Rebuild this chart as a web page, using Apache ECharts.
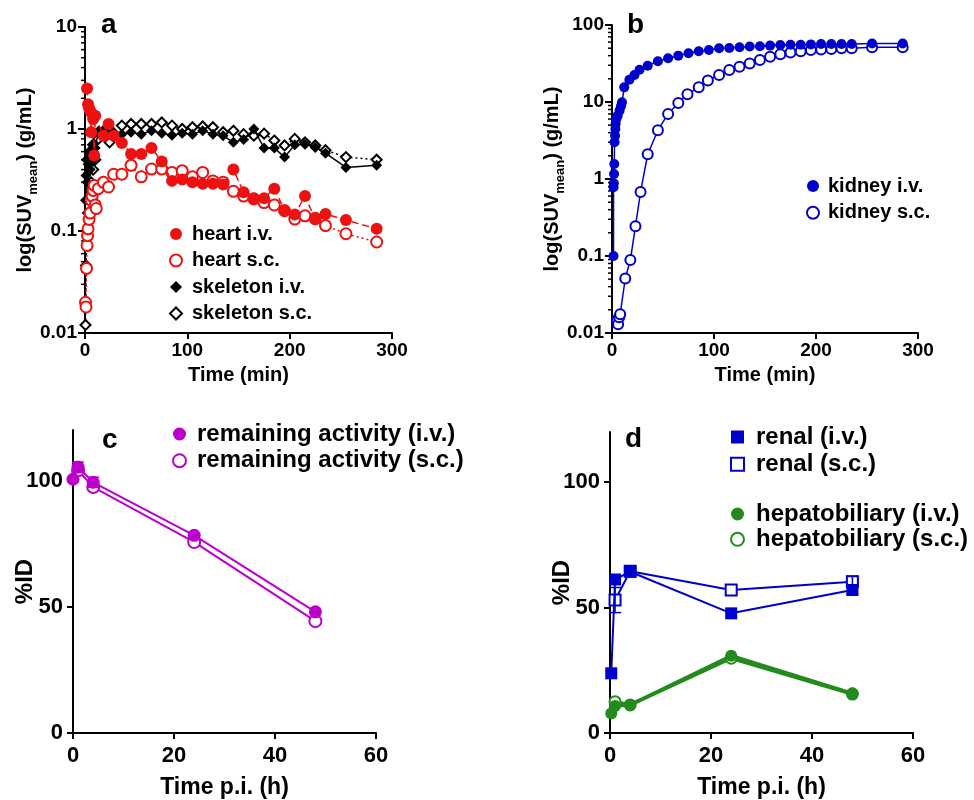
<!DOCTYPE html>
<html>
<head>
<meta charset="utf-8">
<script src="https://cdn.jsdelivr.net/npm/echarts@6/dist/echarts.min.js"></script>
<style>
  html, body { margin: 0; padding: 0; background: #fff; }
  #chart { width: 974px; height: 800px; }
</style>
</head>
<body>
<div id="chart"></div>
<script>
// ---- panel a: heart / skeleton (SUV, log) ----
const heartIvT = [2, 3, 4, 5, 6, 7, 8, 9, 10, 18, 23, 28, 36, 45, 55, 65, 75, 85, 95, 105, 115, 125, 135, 145, 155, 165, 175, 185, 195, 205, 215, 225, 235, 255, 285]
const heartIvV = [2.5, 1.75, 1.6, 1.5, 0.93, 1.4, 1.25, 0.55, 1.35, 0.86, 1.12, 0.86, 0.73, 0.57, 0.57, 0.65, 0.48, 0.31, 0.32, 0.30, 0.29, 0.29, 0.285, 0.40, 0.24, 0.21, 0.21, 0.26, 0.16, 0.145, 0.22, 0.13, 0.147, 0.128, 0.105]
const heartScT = [0.5, 1, 1.5, 2, 2.5, 3, 4, 5, 6, 7, 8, 9, 10, 11, 13, 18, 23, 28, 36, 45, 55, 65, 75, 85, 95, 105, 115, 125, 135, 145, 155, 165, 175, 185, 195, 205, 215, 225, 235, 255, 285]
const heartScV = [0.02, 0.018, 0.043, 0.072, 0.09, 0.105, 0.13, 0.15, 0.2, 0.22, 0.25, 0.28, 0.18, 0.166, 0.26, 0.30, 0.27, 0.36, 0.36, 0.44, 0.34, 0.405, 0.405, 0.375, 0.39, 0.34, 0.375, 0.31, 0.30, 0.245, 0.22, 0.206, 0.19, 0.18, 0.158, 0.131, 0.141, 0.133, 0.113, 0.094, 0.078]
const skelIvT = [0.5, 1, 1.5, 2, 3, 4, 5, 6, 7, 8, 10, 13, 18, 23, 28, 36, 45, 55, 65, 75, 85, 95, 105, 115, 125, 135, 145, 155, 165, 175, 185, 195, 205, 215, 225, 235, 255, 285]
const skelIvV = [0.2, 0.35, 0.5, 0.3, 0.45, 0.6, 0.4, 0.55, 0.7, 0.5, 0.65, 0.95, 0.95, 0.9, 0.93, 0.89, 0.93, 0.89, 0.96, 0.91, 0.87, 0.91, 0.89, 0.96, 0.89, 0.86, 0.74, 0.79, 1.0, 0.65, 0.65, 0.53, 0.70, 0.71, 0.66, 0.58, 0.42, 0.44]
const skelScT = [0.5, 1, 2, 3, 4, 5, 6, 8, 10, 13, 18, 24, 36, 45, 55, 65, 75, 85, 95, 105, 115, 125, 135, 145, 155, 165, 175, 185, 195, 205, 215, 225, 235, 255, 285]
const skelScV = [0.012, 0.046, 0.1, 0.15, 0.2, 0.25, 0.3, 0.4, 0.5, 0.8, 0.95, 0.74, 1.08, 1.12, 1.12, 1.12, 1.16, 1.08, 1.0, 1.04, 1.06, 1.04, 0.93, 0.96, 0.89, 0.86, 0.9, 0.77, 0.69, 0.80, 0.74, 0.69, 0.62, 0.53, 0.50]

// ---- panel b: kidney ----
const kidIvT = [1.5, 1.5, 1.8, 2, 2.2, 2.5, 3, 3.3, 3.6, 4.2, 5.5, 7.4, 8.8, 9.8, 12, 17, 22, 27, 35, 45, 55, 65, 75, 85, 95, 105, 115, 125, 135, 145, 155, 165, 175, 185, 195, 205, 215, 225, 235, 255, 285]
const kidIvV = [0.1, 0.78, 0.88, 1.16, 1.57, 3.0, 3.65, 4.45, 5.2, 6.0, 6.6, 7.7, 8.8, 9.9, 15.5, 19.5, 22.4, 26.3, 29.6, 33.8, 37, 40, 43, 45.5, 47.3, 50, 50.3, 51.5, 52.5, 53, 54, 55, 55.5, 55.5, 56, 56.6, 56.6, 56.6, 56.6, 57.5, 57.5]
const kidScT = [5, 6, 7, 8, 13, 18, 23, 28, 35, 45, 55, 65, 74, 85, 94, 105, 115, 125, 135, 145, 155, 165, 175, 185, 195, 205, 215, 225, 235, 255, 285]
const kidScV = [0.0145, 0.013, 0.016, 0.0175, 0.051, 0.089, 0.243, 0.68, 2.1, 4.3, 7.0, 9.7, 12.6, 15.5, 19, 22.4, 26, 28.7, 31.7, 35, 38.7, 41.8, 44, 45.6, 47.3, 47.9, 48.9, 50, 50, 51.3, 51.3]

// ---- panel c: remaining activity ----
const remIvT = [0, 1, 4, 24, 48]
const remIvV = [100.5, 105.3, 99.3, 78.3, 48]
const remScT = [1, 4, 24, 48]
const remScV = [104, 97.4, 75.6, 44.3]
// [t, low, high]
const remIvErr = [[1, 103.3, 107.3], [4, 97.3, 101.3]]

// ---- panel d: excretion ----
const renIvT = [0.25, 1, 4, 24, 48]
const renIvV = [23.8, 61.2, 64.3, 47.7, 57]
const renScT = [1, 4, 24, 48]
const renScV = [53, 64.5, 57, 60.3]
const hepIvT = [0.25, 1, 4, 24, 48]
const hepIvV = [7.8, 10.8, 11.2, 30.8, 15.8]
const hepScT = [1, 4, 24, 48]
const hepScV = [12.5, 11.2, 29.8, 15.5]
const renScErr = [[1, 48, 58], [48, 58.5, 62.5]]
const renIvErr = [[48, 55.5, 58.5]]

// axis ticks
const logDecadesA = [0.01, 0.1, 1]
const logDecadesB = [0.01, 0.1, 1, 10]
const minorSteps = [2, 3, 4, 5, 6, 7, 8, 9]
const pctTicks = [0, 50, 100]

const RED = '#ee1111'
const BLUE = '#0000cc'
const MAG = '#bb00cc'
const GREEN = '#238a1e'
const FONT = 'Liberation Sans'

function pairs(t, v) { return t.map(function (x, i) { return [x, v[i]] }) }
function minorVals(decades) {
  const out = []
  decades.forEach(function (d) { minorSteps.forEach(function (s) { out.push([0, d * s]) }) })
  return out
}

function minorTickSeries(idx, decades) {
  return {
    type: 'custom', xAxisIndex: idx, yAxisIndex: idx, silent: true, z: 1,
    data: minorVals(decades),
    renderItem: function (params, api) {
      const p = api.coord([0, api.value(1)])
      return { type: 'line', shape: { x1: p[0] - 4, y1: p[1], x2: p[0], y2: p[1] }, style: { stroke: '#000', lineWidth: 1.5 } }
    }
  }
}

function errSeries(idx, data, color) {
  return {
    type: 'custom', xAxisIndex: idx, yAxisIndex: idx, silent: true, z: 3,
    data: data,
    renderItem: function (params, api) {
      const a = api.coord([api.value(0), api.value(1)])
      const b = api.coord([api.value(0), api.value(2)])
      const st = { stroke: color, lineWidth: 1.5 }
      return {
        type: 'group', children: [
          { type: 'line', shape: { x1: a[0], y1: a[1], x2: b[0], y2: b[1] }, style: st },
          { type: 'line', shape: { x1: a[0] - 6, y1: a[1], x2: a[0] + 6, y2: a[1] }, style: st },
          { type: 'line', shape: { x1: b[0] - 6, y1: b[1], x2: b[0] + 6, y2: b[1] }, style: st }
        ]
      }
    }
  }
}

function xAxis(idx, max, interval, name, fs, gap) {
  return {
    gridIndex: idx, type: 'value', min: 0, max: max, interval: interval,
    name: name, nameLocation: 'middle', nameGap: gap, nameMoveOverlap: false,
    nameTextStyle: { fontSize: fs + 1, fontWeight: 'bold', color: '#000', fontFamily: FONT },
    axisLine: { lineStyle: { color: '#000', width: 2 } },
    axisTick: { length: 6, lineStyle: { color: '#000', width: 2 } },
    axisLabel: { fontSize: fs, fontWeight: 'bold', color: '#000', fontFamily: FONT, margin: fs > 20 ? 12 : 8 },
    splitLine: { show: false }
  }
}

const subName = '{m|log(SUV}{sub|mean}{m|) (g/mL)}'
const subRich = {
  m: { fontSize: 20, fontWeight: 'bold', fontFamily: FONT, color: '#000', verticalAlign: 'bottom', padding: [0, 0, 5, 0] },
  sub: { fontSize: 13, fontWeight: 'bold', fontFamily: FONT, color: '#000', verticalAlign: 'bottom' }
}

function logAxis(idx, max) {
  return {
    gridIndex: idx, type: 'log', logBase: 10, min: 0.01, max: max,
    name: subName, nameLocation: 'middle', nameGap: 45, nameRotate: 90, nameMoveOverlap: false,
    nameTextStyle: { rich: subRich },
    axisLine: { lineStyle: { color: '#000', width: 2 } },
    axisTick: { length: 7, lineStyle: { color: '#000', width: 2 } },
    axisLabel: { fontSize: 19, fontWeight: 'bold', color: '#000', fontFamily: FONT, margin: 8 },
    splitLine: { show: false }
  }
}

function pctAxis(idx) {
  return {
    gridIndex: idx, type: 'value', min: 0, max: 120,
    name: '%ID', nameLocation: 'middle', nameGap: 36, nameRotate: 90, nameMoveOverlap: false,
    nameTextStyle: { fontSize: 24, fontWeight: 'bold', color: '#000', fontFamily: FONT },
    axisLine: { lineStyle: { color: '#000', width: 2 } },
    axisTick: { length: 6, customValues: pctTicks, lineStyle: { color: '#000', width: 2 } },
    axisLabel: { fontSize: 22, fontWeight: 'bold', color: '#000', fontFamily: FONT, margin: 10, customValues: pctTicks },
    splitLine: { show: false }
  }
}

function lineSeries(name, idx, data, color, symbol, size, lineType, width, z) {
  const empty = symbol.indexOf('empty') === 0
  return {
    name: name, type: 'line', xAxisIndex: idx, yAxisIndex: idx, data: data,
    symbol: symbol, symbolSize: size, z: z || 2,
    lineStyle: { color: color, width: width, type: lineType },
    itemStyle: { color: color, borderColor: color, borderWidth: empty ? 2 : 0 }
  }
}

function legendItem(name, icon, color) {
  const empty = icon.indexOf('empty') === 0
  return {
    name: name, icon: icon.replace('empty', '').toLowerCase(),
    itemStyle: empty ? { color: '#fff', borderColor: color, borderWidth: 2 } : { color: color, borderWidth: 0 }
  }
}

// square icon box, text pushed right with padding
function legend(left, top, gap, size, fs, pad, items) {
  return {
    left: left, top: top, padding: 0, orient: 'vertical', itemGap: gap, itemWidth: size, itemHeight: size,
    selectedMode: false,
    textStyle: { fontSize: fs, fontWeight: 'bold', color: '#000', fontFamily: FONT, lineHeight: fs, padding: [0, 0, 0, pad] },
    data: items
  }
}

function letter(text, left, top) {
  return { text: text, left: left, top: top, padding: 0, textStyle: { fontSize: 28, fontWeight: 'bold', color: '#000', fontFamily: FONT } }
}

const chart = echarts.init(document.getElementById('chart'), null, { renderer: 'canvas' })

const option = {
  animation: false,
  backgroundColor: '#fff',
  textStyle: { fontFamily: FONT },
  title: [letter('a', 101, 11), letter('b', 627, 11), letter('c', 102, 426), letter('d', 625, 425)],
  grid: [
    { left: 85, top: 27, width: 307, height: 306 },
    { left: 612, top: 25, width: 306, height: 308 },
    { left: 73, top: 430, width: 303, height: 303 },
    { left: 610, top: 432, width: 303, height: 301 }
  ],
  xAxis: [
    xAxis(0, 300, 100, 'Time (min)', 19, 32),
    xAxis(1, 300, 100, 'Time (min)', 19, 32),
    xAxis(2, 60, 20, 'Time p.i. (h)', 22, 43),
    xAxis(3, 60, 20, 'Time p.i. (h)', 22, 43)
  ],
  yAxis: [logAxis(0, 10), logAxis(1, 100), pctAxis(2), pctAxis(3)],
  legend: [
    legend(169, 224, 6.5, 12, 20, 5, [
      legendItem('heart i.v.', 'circle', RED), legendItem('heart s.c.', 'emptyCircle', RED),
      legendItem('skeleton i.v.', 'diamond', '#000'), legendItem('skeleton s.c.', 'emptyDiamond', '#000')
    ]),
    legend(806, 176, 6.7, 12, 20, 4, [
      legendItem('kidney i.v.', 'circle', BLUE), legendItem('kidney s.c.', 'emptyCircle', BLUE)
    ]),
    legend(172, 422, 2.7, 13, 24, 6, [
      legendItem('remaining activity (i.v.)', 'circle', MAG), legendItem('remaining activity (s.c.)', 'emptyCircle', MAG)
    ]),
    legend(730, 425, 3.3, 13, 24, 7, [
      legendItem('renal (i.v.)', 'rect', BLUE), legendItem('renal (s.c.)', 'emptyRect', BLUE)
    ]),
    legend(730, 502, 1.3, 13, 24, 7, [
      legendItem('hepatobiliary (i.v.)', 'circle', GREEN), legendItem('hepatobiliary (s.c.)', 'emptyCircle', GREEN)
    ])
  ],
  series: [
    minorTickSeries(0, logDecadesA),
    minorTickSeries(1, logDecadesB),
    lineSeries('skeleton s.c.', 0, pairs(skelScT, skelScV), '#000', 'emptyDiamond', 10, [2, 3], 1.5, 2),
    lineSeries('skeleton i.v.', 0, pairs(skelIvT, skelIvV), '#000', 'diamond', 11, 'solid', 1.5, 3),
    lineSeries('heart s.c.', 0, pairs(heartScT, heartScV), RED, 'emptyCircle', 11, [2, 3], 1.5, 4),
    lineSeries('heart i.v.', 0, pairs(heartIvT, heartIvV), RED, 'circle', 12, [7, 4], 1.5, 5),

    lineSeries('kidney s.c.', 1, pairs(kidScT, kidScV), BLUE, 'emptyCircle', 10, 'solid', 1.5, 2),
    lineSeries('kidney i.v.', 1, pairs(kidIvT, kidIvV), BLUE, 'circle', 10, 'solid', 1.5, 3),

    lineSeries('remaining activity (s.c.)', 2, pairs(remScT, remScV), MAG, 'emptyCircle', 12, 'solid', 2, 2),
    lineSeries('remaining activity (i.v.)', 2, pairs(remIvT, remIvV), MAG, 'circle', 13, 'solid', 2, 3),
    errSeries(2, remIvErr, MAG),

    lineSeries('renal (s.c.)', 3, pairs(renScT, renScV), BLUE, 'emptyRect', 11, 'solid', 2, 2),
    lineSeries('renal (i.v.)', 3, pairs(renIvT, renIvV), BLUE, 'rect', 12, 'solid', 2, 3),
    lineSeries('hepatobiliary (s.c.)', 3, pairs(hepScT, hepScV), GREEN, 'emptyCircle', 11, 'solid', 3.5, 2),
    lineSeries('hepatobiliary (i.v.)', 3, pairs(hepIvT, hepIvV), GREEN, 'circle', 12, 'solid', 3.5, 3),
    errSeries(3, renScErr, BLUE),
    errSeries(3, renIvErr, BLUE)
  ]
}

chart.setOption(option)
</script>
</body>
</html>
